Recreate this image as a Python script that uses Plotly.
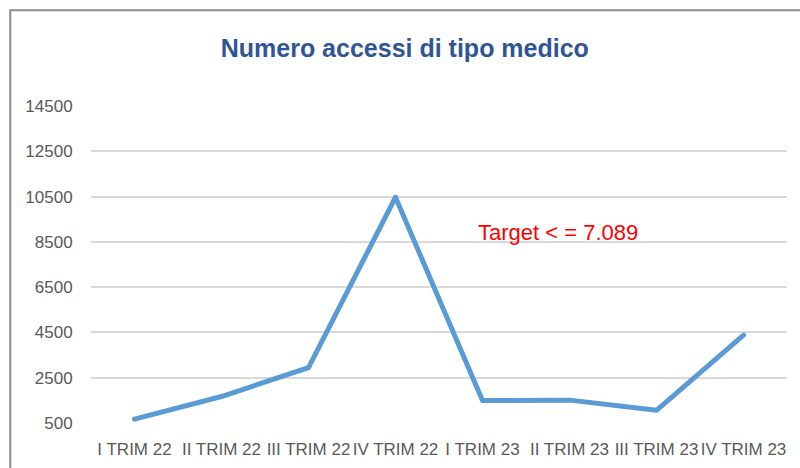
#Import packages
import plotly.graph_objects as go

#Data
Quarters = ["I TRIM 22", "II TRIM 22", "III TRIM 22", "IV TRIM 22",
            "I TRIM 23", "II TRIM 23", "III TRIM 23", "IV TRIM 23"]
Accessi = [670, 1670, 2950, 10470, 1490, 1510, 1060, 4380]
Y_ticks = [500, 2500, 4500, 6500, 8500, 10500, 12500, 14500]
Title = "Numero accessi di tipo medico"
Target_text = "Target < = 7.089"

FONT = "Liberation Sans, Arial, sans-serif"
GRAY = "#595959"

fig = go.Figure(
    data=[go.Scatter(
        x=Quarters, y=Accessi, mode="lines",
        line=dict(color="#5B9BD5", width=5),
        hoverinfo="x+y")],
    layout=go.Layout(
        width=800, height=468,
        margin=dict(l=91, r=13, t=106, b=45),
        paper_bgcolor="white", plot_bgcolor="white",
        showlegend=False,
        title=dict(text=f"<b>{Title}</b>", x=0.506, xanchor="center",
                   y=0.897, yanchor="middle", yref="container",
                   font=dict(family=FONT, size=25, color="#2F5597")),
        xaxis=dict(type="category", range=[-0.5, 7.5], automargin=False,
                   showgrid=False, showline=False, zeroline=False,
                   ticks="outside", ticklen=11, tickcolor="rgba(0,0,0,0)",
                   tickfont=dict(family=FONT, size=17, color=GRAY)),
        yaxis=dict(range=[500, 14500], tickvals=Y_ticks, tickformat="d",
                   automargin=False,
                   showgrid=True, gridcolor="#D9D9D9", gridwidth=1.5,
                   showline=False, zeroline=False,
                   ticks="outside", ticklen=14, tickcolor="rgba(0,0,0,0)",
                   tickfont=dict(family=FONT, size=17, color=GRAY)),
        annotations=[dict(
            x=4.87, y=8930, xref="x", yref="y",
            text=Target_text, showarrow=False,
            xanchor="center", yanchor="middle",
            font=dict(family=FONT, size=22, color="#FF0000"))],
        #Chart frame (left and top edges visible in the crop)
        shapes=[dict(type="rect", xref="paper", yref="paper",
                     x0=-0.116, x1=1.5, y0=-0.5, y1=1.302,
                     line=dict(color="#8C8C8C", width=2), layer="below")]
    )
)

#No page margin so the figure sits at the window's top-left; round line joins like Excel
js = ("document.body.style.margin='0';document.body.style.overflow='hidden';"
      "document.querySelectorAll('.js-line').forEach(function(p){"
      "p.style.strokeLinejoin='round';p.style.strokeLinecap='round';});")
fig.write_html("out.html", post_script=js, config={"displayModeBar": False})
